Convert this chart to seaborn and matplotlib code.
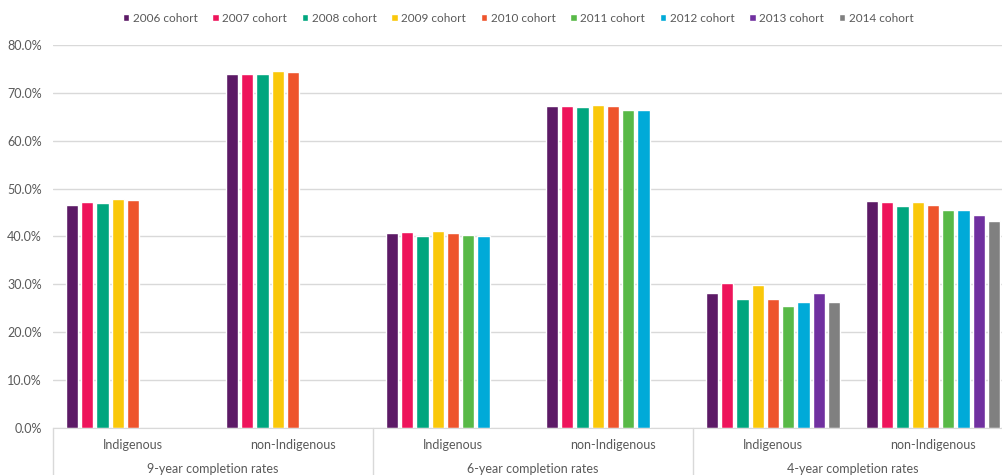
import numpy as np
import pandas as pd
import matplotlib
matplotlib.use('Agg')
import matplotlib.pyplot as plt
import matplotlib.transforms as mtransforms
from matplotlib.ticker import PercentFormatter
import seaborn as sns

cohorts = ['2006 cohort', '2007 cohort', '2008 cohort', '2009 cohort', '2010 cohort',
           '2011 cohort', '2012 cohort', '2013 cohort', '2014 cohort']
colors = ['#5C1A66', '#EE145B', '#00A67E', '#FAC80A', '#EE542C',
          '#58B947', '#00AAD8', '#7030A0', '#808080']
groups = ['9-year completion rates', '6-year completion rates', '4-year completion rates']
populations = ['Indigenous', 'non-Indigenous']

# completion rates (%) per cohort, NaN where the cohort has no value yet
nine_ind = [46.5, 47.2, 47.0, 47.9, 47.6, np.nan, np.nan, np.nan, np.nan]
nine_non = [73.9, 73.9, 73.9, 74.5, 74.3, np.nan, np.nan, np.nan, np.nan]
six_ind = [40.7, 41.0, 40.1, 41.1, 40.8, 40.4, 40.0, np.nan, np.nan]
six_non = [67.3, 67.3, 67.0, 67.5, 67.3, 66.4, 66.3, np.nan, np.nan]
four_ind = [28.2, 30.3, 27.0, 29.8, 27.0, 25.6, 26.3, 28.2, 26.3]
four_non = [47.4, 47.1, 46.3, 47.1, 46.5, 45.6, 45.6, 44.5, 43.2]

series = [nine_ind, nine_non, six_ind, six_non, four_ind, four_non]
rows = []
for i, vals in enumerate(series):
    g = groups[i // 2]
    p = populations[i % 2]
    for c, v in zip(cohorts, vals):
        rows.append({'category': g + '|' + p, 'cohort': c, 'rate': v})
df = pd.DataFrame(rows)

sns.set_style('white')
plt.rcParams['font.family'] = ['Lato', 'DejaVu Sans']

fig = plt.figure(figsize=(10.02, 4.75), dpi=100)
ax = fig.add_axes([53 / 1002, 46.7 / 475, 960 / 1002, 383.6 / 475])

sns.barplot(data=df, x='category', y='rate', hue='cohort', hue_order=cohorts,
            palette=colors, saturation=1, width=0.86, gap=0.2, ax=ax, legend=True)

ax.set_ylim(0, 80)
ax.set_xlim(-0.5, 5.5)
ax.set_yticks(np.arange(0, 81, 10))
ax.yaxis.set_major_formatter(PercentFormatter(decimals=1))
ax.grid(axis='y', color='#D9D9D9', linewidth=1)
ax.set_axisbelow(True)
for s in ['top', 'right', 'left']:
    ax.spines[s].set_visible(False)
ax.spines['bottom'].set_color('#D9D9D9')
ax.tick_params(axis='y', length=0, labelsize=9, labelcolor='#595959', pad=8)
ax.tick_params(axis='x', length=0, labelsize=9, labelcolor='#595959', pad=8)
ax.set_xticks(range(6))
ax.set_xticklabels([populations[i % 2] for i in range(6)])
ax.set_xlabel('')
ax.set_ylabel('')

trans = mtransforms.blended_transform_factory(ax.transData, ax.transAxes)
for xs in [-0.5, 1.5, 3.5, 5.5]:
    ax.plot([xs, xs], [0, -0.13], transform=trans, color='#D9D9D9',
            linewidth=1, clip_on=False)
for k, g in enumerate(groups):
    ax.text(2 * k + 0.5, -0.106, g, transform=trans, ha='center', va='center',
            fontsize=9, color='#595959')

handles, labels = ax.get_legend_handles_labels()
ax.get_legend().remove()
fig.legend(handles, labels, loc='center', bbox_to_anchor=(518 / 1002, 0.962),
           ncol=9, frameon=False, fontsize=8.5, handlelength=0.55, handleheight=0.55,
           handletextpad=0.3, columnspacing=1.25, labelcolor='#595959')

fig.savefig('out.png', dpi=100)
